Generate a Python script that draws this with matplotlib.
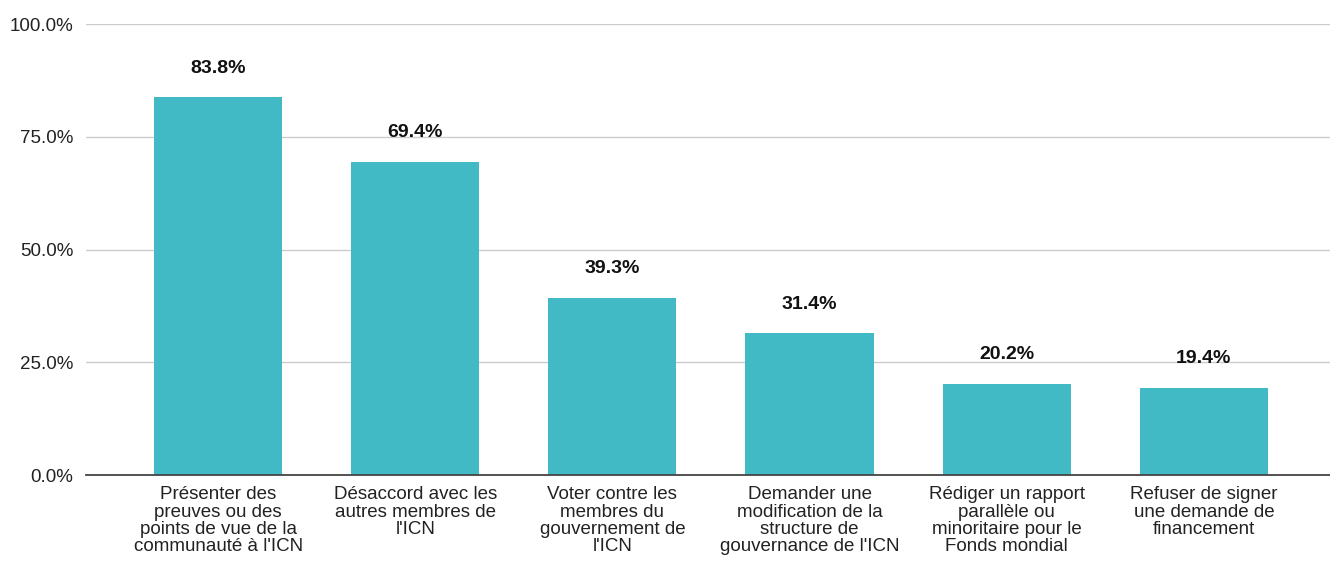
import matplotlib.pyplot as plt
from matplotlib.ticker import FuncFormatter

plt.rcParams['font.family'] = ['Liberation Sans', 'DejaVu Sans']

# Données
categories = [
    "Présenter des\npreuves ou des\npoints de vue de la\ncommunauté à l'ICN",
    "Désaccord avec les\nautres membres de\nl'ICN",
    "Voter contre les\nmembres du\ngouvernement de\nl'ICN",
    "Demander une\nmodification de la\nstructure de\ngouvernance de l'ICN",
    "Rédiger un rapport\nparallèle ou\nminoritaire pour le\nFonds mondial",
    "Refuser de signer\nune demande de\nfinancement",
]
values = [83.8, 69.4, 39.3, 31.4, 20.2, 19.4]
yticks = [0, 25, 50, 75, 100]

fig = plt.figure(figsize=(13.3, 5.63), dpi=100)
ax = fig.add_axes([0.0647, 0.1563, 0.9353, 0.8007])

x = range(len(values))
bars = ax.bar(x, values, width=0.65, color="#41BAC5", zorder=3)

# Étiquettes des valeurs
for xi, v in zip(x, values):
    ax.annotate(f"{v:.1f}%", (xi, v), xytext=(0, 21), textcoords="offset points",
                ha="center", va="center", fontsize=14, fontweight="bold", color="#111111")

ax.set_xlim(-0.67, 5.64)
ax.set_ylim(0, 100)
ax.set_yticks(yticks)
ax.yaxis.set_major_formatter(FuncFormatter(lambda v, p: f"{v:.1f}%"))
ax.set_xticks(list(x))
ax.set_xticklabels(categories, fontsize=13.5, color="#222222", linespacing=1.03)
ax.tick_params(axis="y", labelsize=13.5, labelcolor="#222222", length=0, pad=9)
ax.tick_params(axis="x", length=0, pad=8)

ax.grid(axis="y", color="#cccccc", linewidth=1, zorder=0)
for s in ["top", "right", "left"]:
    ax.spines[s].set_visible(False)
ax.spines["bottom"].set_color("#444444")
ax.spines["bottom"].set_linewidth(1.3)
ax.spines["bottom"].set_zorder(4)

fig.savefig("out.png", dpi=100)
